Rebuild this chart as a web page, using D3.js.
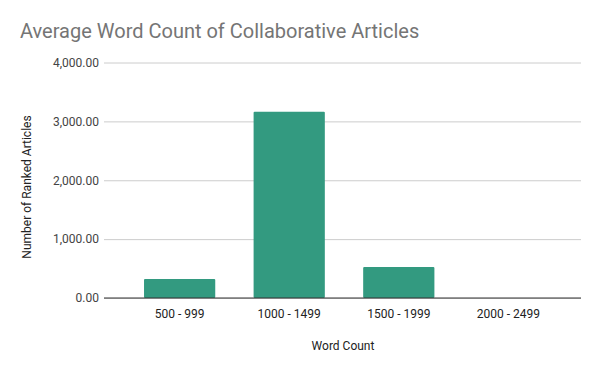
<!DOCTYPE html>
<html>
<head>
<meta charset="utf-8">
<script src="https://cdn.jsdelivr.net/npm/d3@7"></script>
<style>
  html, body { margin: 0; padding: 0; background: #fff; }
  svg { display: block; font-family: Roboto, "Noto Sans", sans-serif; }
</style>
</head>
<body>
<svg id="chart" width="600" height="371"></svg>
<script>
// data
const categories = ['500 - 999', '1000 - 1499', '1500 - 1999', '2000 - 2499'];
const articleCounts = [322, 3165, 528, 0];
const yTicks = [0, 1000, 2000, 3000, 4000];

const svg = d3.select('#chart');

// gridlines start left of the bars, bars sit in an inner band range
const plot = { left: 104, right: 581, top: 62.5, bottom: 298 };

let yScale = d3.scaleLinear()
    .domain([0, 4000])
    .range([plot.bottom, plot.top]);

let xScale = d3.scaleBand()
    .domain(categories)
    .range([130, 558])
    .paddingInner(0.35)
    .paddingOuter(0.128);

// title
svg.append('text')
    .attr('x', 20)
    .attr('y', 38)
    .attr('fill', '#757575')
    .style('font-size', '20px')
    .text('Average Word Count of Collaborative Articles');

// gridlines + y labels
let yAxis = d3.axisLeft(yScale)
    .tickValues(yTicks)
    .tickSize(-(plot.right - plot.left))
    .tickPadding(5)
    .tickFormat(d3.format(',.2f'));

const yGroup = svg.append('g')
    .attr('transform', `translate(${plot.left},0)`)
    .call(yAxis);
yGroup.select('.domain').remove();
yGroup.selectAll('.tick line').attr('stroke', '#cccccc');
yGroup.selectAll('.tick text')
    .attr('fill', '#444')
    .style('font-size', '12px')
    .style('font-family', 'Roboto, sans-serif');

// bars
svg.append('g')
    .selectAll('rect')
    .data(articleCounts)
    .enter()
    .append('rect')
    .attr('x', (d, i) => xScale(categories[i]))
    .attr('y', d => yScale(d))
    .attr('width', xScale.bandwidth())
    .attr('height', d => plot.bottom - yScale(d))
    .attr('rx', 1)
    .attr('fill', '#339a80');

// baseline
svg.append('line')
    .attr('x1', plot.left)
    .attr('x2', plot.right)
    .attr('y1', yScale(0))
    .attr('y2', yScale(0))
    .attr('stroke', '#333')
    .attr('stroke-width', 1);

// x axis labels
let xAxis = d3.axisBottom(xScale).tickSize(0).tickPadding(11);
const xGroup = svg.append('g')
    .attr('transform', `translate(0,${plot.bottom})`)
    .call(xAxis);
xGroup.select('.domain').remove();
xGroup.selectAll('.tick text')
    .attr('fill', '#222')
    .style('font-size', '12px')
    .style('font-family', 'Roboto, sans-serif');

// axis titles
svg.append('text')
    .attr('x', 343)
    .attr('y', 350)
    .attr('text-anchor', 'middle')
    .attr('fill', '#222')
    .style('font-size', '12px')
    .text('Word Count');

svg.append('text')
    .attr('transform', 'translate(31,187) rotate(-90)')
    .attr('text-anchor', 'middle')
    .attr('fill', '#222')
    .style('font-size', '12px')
    .text('Number of Ranked Articles');
</script>
</body>
</html>
